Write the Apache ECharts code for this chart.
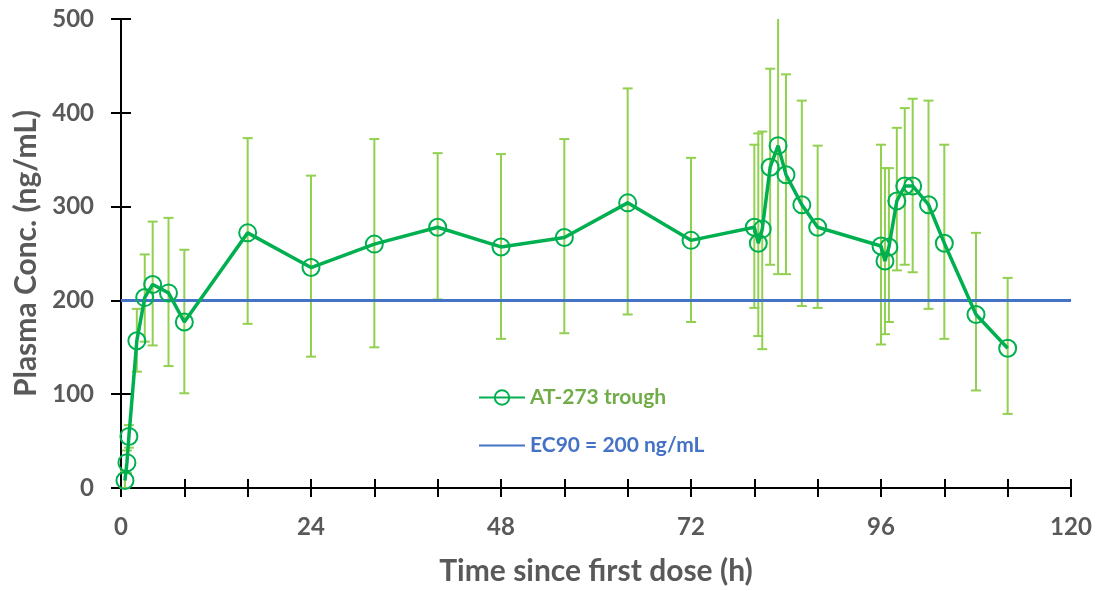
<!DOCTYPE html>
<html>
<head>
<meta charset="utf-8">
<script src="https://cdn.jsdelivr.net/npm/echarts@6/dist/echarts.min.js"></script>
<style>
  html, body { margin: 0; padding: 0; background: #fff; }
  #main { width: 1097px; height: 591px; }
</style>
</head>
<body>
<div id="main"></div>
<script>
// time after first dose (h)
const times = [0.5, 0.75, 1, 2, 3, 4, 6, 8, 16, 24, 32, 40, 48, 56, 64, 72,
  80, 80.5, 81, 82, 83, 84, 86, 88, 96, 96.5, 97, 98, 99, 100, 102, 104, 108, 112];
// mean trough conc (ng/mL)
const conc = [8, 27, 55, 157, 203, 217, 208, 177, 272, 235, 260, 278, 257, 267, 304, 264,
  278, 261, 276, 342, 365, 334, 302, 278, 258, 242, 257, 306, 322, 322, 302, 261, 185, 149];
// error bar ends
const errHigh = [18, 40, 67, 191, 249, 284, 288, 254, 373, 333, 372, 357, 356, 372, 426, 352,
  366, 378, 380, 447, 510, 441, 413, 365, 366, 341, 341, 384, 405, 415, 413, 366, 272, 224];
const errLow = [0, 16, 43, 124, 156, 152, 130, 101, 175, 140, 150, 201, 159, 165, 185, 177,
  192, 162, 148, 238, 228, 228, 194, 192, 153, 164, 177, 232, 238, 230, 191, 159, 104, 79];

const ec90Times = [0, 120];
const ec90Level = [200, 200];

const xMax = 120, yMax = 500;

const fontFam = 'Lato, "Open Sans", sans-serif';
const grey = '#595959';

let chartDom = document.getElementById('main');
let myChart = echarts.init(chartDom);

const lineData = times.map((t, i) => [t, conc[i]]);
const errData = times.map((t, i) => [t, errLow[i], errHigh[i]]);
const ecData = ec90Times.map((t, i) => [t, ec90Level[i]]);

// draws one vertical bar with caps, cut at the top of the plot
const renderErr = function (params, api) {
  let x = api.value(0);
  let lo = api.value(1);
  let hi = api.value(2);
  let clipped = hi > yMax;
  let top = api.coord([x, Math.min(hi, yMax)]);
  let bot = api.coord([x, lo]);
  let w = 5;
  let st = { stroke: '#92D050', lineWidth: 2 };
  let kids = [
    { type: 'line', shape: { x1: top[0], y1: top[1], x2: bot[0], y2: bot[1] }, style: st },
    { type: 'line', shape: { x1: bot[0] - w, y1: bot[1], x2: bot[0] + w, y2: bot[1] }, style: st }
  ];
  if (!clipped) {
    kids.push({ type: 'line', shape: { x1: top[0] - w, y1: top[1], x2: top[0] + w, y2: top[1] }, style: st });
  }
  return { type: 'group', children: kids };
};

let option = {
  animation: false,
  grid: { left: 121, right: 26, top: 19, bottom: 100, containLabel: false },
  legend: {
    orient: 'vertical',
    left: 478,
    top: 387,
    padding: 0,
    itemWidth: 46,
    itemHeight: 18,
    itemGap: 27,
    textStyle: { fontFamily: fontFam, fontWeight: 'bold', fontSize: 21 },
    data: [
      { name: 'AT-273 trough', textStyle: { color: '#70AD47' } },
      { name: 'EC90 = 200 ng/mL', textStyle: { color: '#4472C4' } }
    ]
  },
  xAxis: [
    {
      type: 'value', min: 0, max: xMax, interval: 8, position: 'bottom',
      name: 'Time since first dose (h)', nameLocation: 'middle', nameGap: 68,
      nameTextStyle: { fontFamily: fontFam, fontWeight: 'bold', fontSize: 30, color: grey },
      axisLine: { onZero: false, lineStyle: { color: '#000', width: 2 } },
      axisTick: { length: 9, lineStyle: { color: '#000', width: 2 } },
      axisLabel: {
        margin: 27, fontFamily: fontFam, fontWeight: 'bold', fontSize: 24, color: grey,
        formatter: v => (v % 24 === 0 ? String(v) : '')
      },
      splitLine: { show: false }
    },
    {
      type: 'value', min: 0, max: xMax, interval: 8, position: 'bottom',
      axisLine: { show: false, onZero: false },
      axisTick: { inside: true, length: 9, lineStyle: { color: '#000', width: 2 } },
      axisLabel: { show: false },
      splitLine: { show: false }
    }
  ],
  yAxis: [
    {
      type: 'value', min: 0, max: yMax, interval: 100, position: 'left',
      name: 'Plasma Conc. (ng/mL)', nameLocation: 'middle', nameGap: 78, nameRotate: 90,
      nameTextStyle: { fontFamily: fontFam, fontWeight: 'bold', fontSize: 30, color: grey },
      axisLine: { show: true, onZero: false, lineStyle: { color: '#000', width: 2 } },
      axisTick: { show: true, length: 10, lineStyle: { color: '#000', width: 2 } },
      axisLabel: { margin: 27, fontFamily: fontFam, fontWeight: 'bold', fontSize: 24, color: grey },
      splitLine: { show: false }
    },
    {
      type: 'value', min: 0, max: yMax, interval: 100, position: 'left',
      axisLine: { show: false, onZero: false },
      axisTick: { show: true, inside: true, length: 10, lineStyle: { color: '#000', width: 2 } },
      axisLabel: { show: false },
      splitLine: { show: false }
    }
  ],
  series: [
    {
      name: 'errors',
      type: 'custom',
      renderItem: renderErr,
      data: errData,
      encode: { x: 0, y: [1, 2] },
      z: 1,
      silent: true
    },
    {
      name: 'EC90 = 200 ng/mL',
      type: 'line',
      data: ecData,
      symbol: 'none',
      lineStyle: { color: '#4472C4', width: 3 },
      itemStyle: { color: 'rgba(0,0,0,0)' },
      z: 2
    },
    {
      name: 'AT-273 trough',
      type: 'line',
      data: lineData,
      symbol: 'circle',
      symbolSize: 17,
      showAllSymbol: true,
      lineStyle: { color: '#00B050', width: 3.5 },
      itemStyle: { color: 'rgba(0,0,0,0)', borderColor: '#00B050', borderWidth: 2 },
      z: 3
    }
  ]
};

myChart.setOption(option);
</script>
</body>
</html>
